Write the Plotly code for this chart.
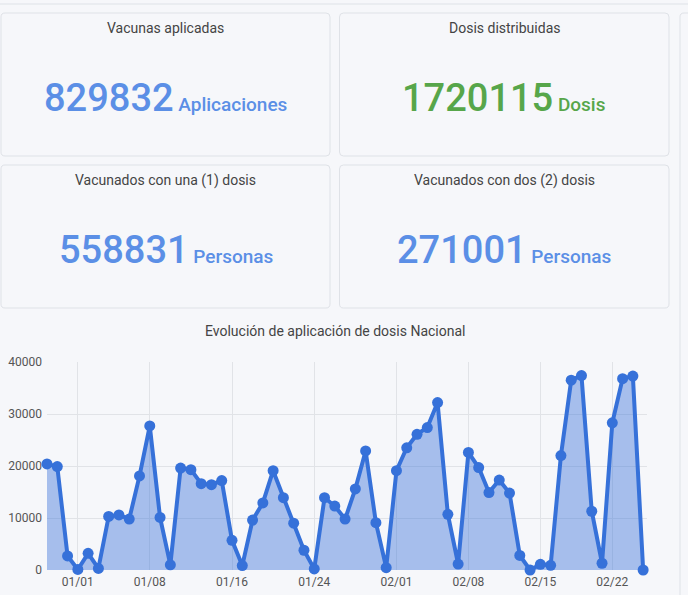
import pandas as pd
import plotly.graph_objects as go

W, H = 688, 595

# --- data ---
fechas = pd.date_range("2020-12-29", "2021-02-25", freq="D")
dosis_diarias = [
    20400, 19900, 2700, 100, 3200, 300, 10300, 10600, 9800, 18100, 27700, 10100, 1000, 19600, 19300,
    16600, 16400, 17200, 5700, 850, 9600, 12900, 19100, 13900, 9000, 3800, 200, 13900, 12300, 9800,
    15600, 22900, 9100, 450, 19100, 23500, 26100, 27400, 32200, 10700, 1150, 22600, 19700, 14900,
    17300, 14800, 2800, 0, 1100, 900, 22000, 36500, 37400, 11300, 1300, 28300, 36800, 37300, 0,
]
tick_fechas = ["2021-01-01", "2021-01-08", "2021-01-16", "2021-01-24",
               "2021-02-01", "2021-02-08", "2021-02-15", "2021-02-22"]
tick_textos = ["01/01", "01/08", "01/16", "01/24", "02/01", "02/08", "02/15", "02/22"]
y_ticks = [0, 10000, 20000, 30000, 40000]

card_titulos = ["Vacunas aplicadas", "Dosis distribuidas",
                "Vacunados con una (1) dosis", "Vacunados con dos (2) dosis"]
card_valores = ["829832", "1720115", "558831", "271001"]
card_unidades = ["Aplicaciones", "Dosis", "Personas", "Personas"]
card_colores = ["#5b8fe6", "#57a64a", "#5b8fe6", "#5b8fe6"]

BG = "#f6f7fa"
BORDER = "#dfe2e7"
FONT = "Roboto"


def px(x):
    return x / W


def py(y):
    return 1 - y / H


def rounded_box(x0, y0, x1, y1, r=4):
    # pixel box -> svg path in paper units, small rounded corners
    pts = [
        ("M", [(x0 + r, y0)]), ("L", [(x1 - r, y0)]), ("Q", [(x1, y0), (x1, y0 + r)]),
        ("L", [(x1, y1 - r)]), ("Q", [(x1, y1), (x1 - r, y1)]),
        ("L", [(x0 + r, y1)]), ("Q", [(x0, y1), (x0, y1 - r)]),
        ("L", [(x0, y0 + r)]), ("Q", [(x0, y0), (x0 + r, y0)]),
    ]
    parts = []
    for cmd, coords in pts:
        parts.append(cmd + " " + " ".join(f"{px(a):.5f},{py(b):.5f}" for a, b in coords))
    return " ".join(parts) + " Z"


fig = go.Figure()

fig.add_trace(
    go.Scatter(
        x=fechas,
        y=dosis_diarias,
        mode="lines+markers",
        line=dict(color="#3671d9", width=4),
        marker=dict(color="#3671d9", size=11),
        fill="tozeroy",
        fillcolor="rgba(54,113,217,0.42)",
        cliponaxis=False,
        showlegend=False,
        hoverinfo="x+y",
    )
)

# card boxes
cajas = [
    (1, 13, 330, 156),
    (339.5, 13, 669, 156),
    (1, 165, 330, 308),
    (339.5, 165, 669, 308),
]
shapes = [
    dict(type="path", path=rounded_box(-10, -40, 700, 4), xref="paper", yref="paper",
         line=dict(color=BORDER, width=1), fillcolor=BG, layer="below"),
    dict(type="path", path=rounded_box(680, 13, 720, 640), xref="paper", yref="paper",
         line=dict(color=BORDER, width=1), fillcolor=BG, layer="below"),
]
for (x0, y0, x1, y1) in cajas:
    shapes.append(dict(type="path", path=rounded_box(x0, y0, x1, y1), xref="paper", yref="paper",
                       line=dict(color=BORDER, width=1), fillcolor=BG, layer="below"))

annotations = []
for (x0, y0, x1, y1), titulo, valor, unidad, color in zip(
        cajas, card_titulos, card_valores, card_unidades, card_colores):
    cx = (x0 + x1) / 2
    annotations.append(dict(
        x=px(cx), y=py(y0 + 15), xref="paper", yref="paper", showarrow=False,
        text=titulo, xanchor="center", yanchor="middle",
        font=dict(family=FONT, size=14, color="#444444"),
    ))
    annotations.append(dict(
        x=px(cx), y=py(y0 + 85), xref="paper", yref="paper", showarrow=False,
        text=f"<span style='font-size:38px'>{valor}</span>"
             f"<span style='font-size:19px'> {unidad}</span>",
        xanchor="center", yanchor="middle",
        font=dict(family=FONT, size=19, color=color, weight=500),
    ))

annotations.append(dict(
    x=px(335), y=py(331), xref="paper", yref="paper", showarrow=False,
    text="Evolución de aplicación de dosis Nacional", xanchor="center", yanchor="middle",
    font=dict(family=FONT, size=14, color="#444444"),
))

fig.update_xaxes(
    domain=[px(47), px(647)],
    range=["2020-12-29", "2021-02-25 09:00"],
    tickmode="array",
    tickvals=tick_fechas,
    ticktext=tick_textos,
    showgrid=True,
    gridcolor="#e1e3e7",
    gridwidth=1,
    zeroline=False,
    showline=False,
    ticks="",
    ticklabelstandoff=3,
    automargin=False,
    tickfont=dict(family=FONT, size=12, color="#555555"),
)
fig.update_yaxes(
    domain=[py(570), py(362)],
    range=[0, 40000],
    tickmode="array",
    tickvals=y_ticks,
    ticktext=[str(v) for v in y_ticks],
    showgrid=True,
    gridcolor="#e1e3e7",
    gridwidth=1,
    zeroline=False,
    ticks="",
    ticklabelstandoff=4,
    automargin=False,
    tickfont=dict(family=FONT, size=12, color="#555555"),
)

fig.update_layout(
    width=W,
    height=H,
    margin=dict(l=0, r=0, t=0, b=0, pad=0),
    paper_bgcolor=BG,
    plot_bgcolor="rgba(0,0,0,0)",
    shapes=shapes,
    annotations=annotations,
    font=dict(family=FONT),
    hovermode="closest",
)

fig.write_html(
    "out.html",
    config={"displayModeBar": False},
    post_script="document.body.style.margin='0';document.body.style.overflow='hidden';",
)
